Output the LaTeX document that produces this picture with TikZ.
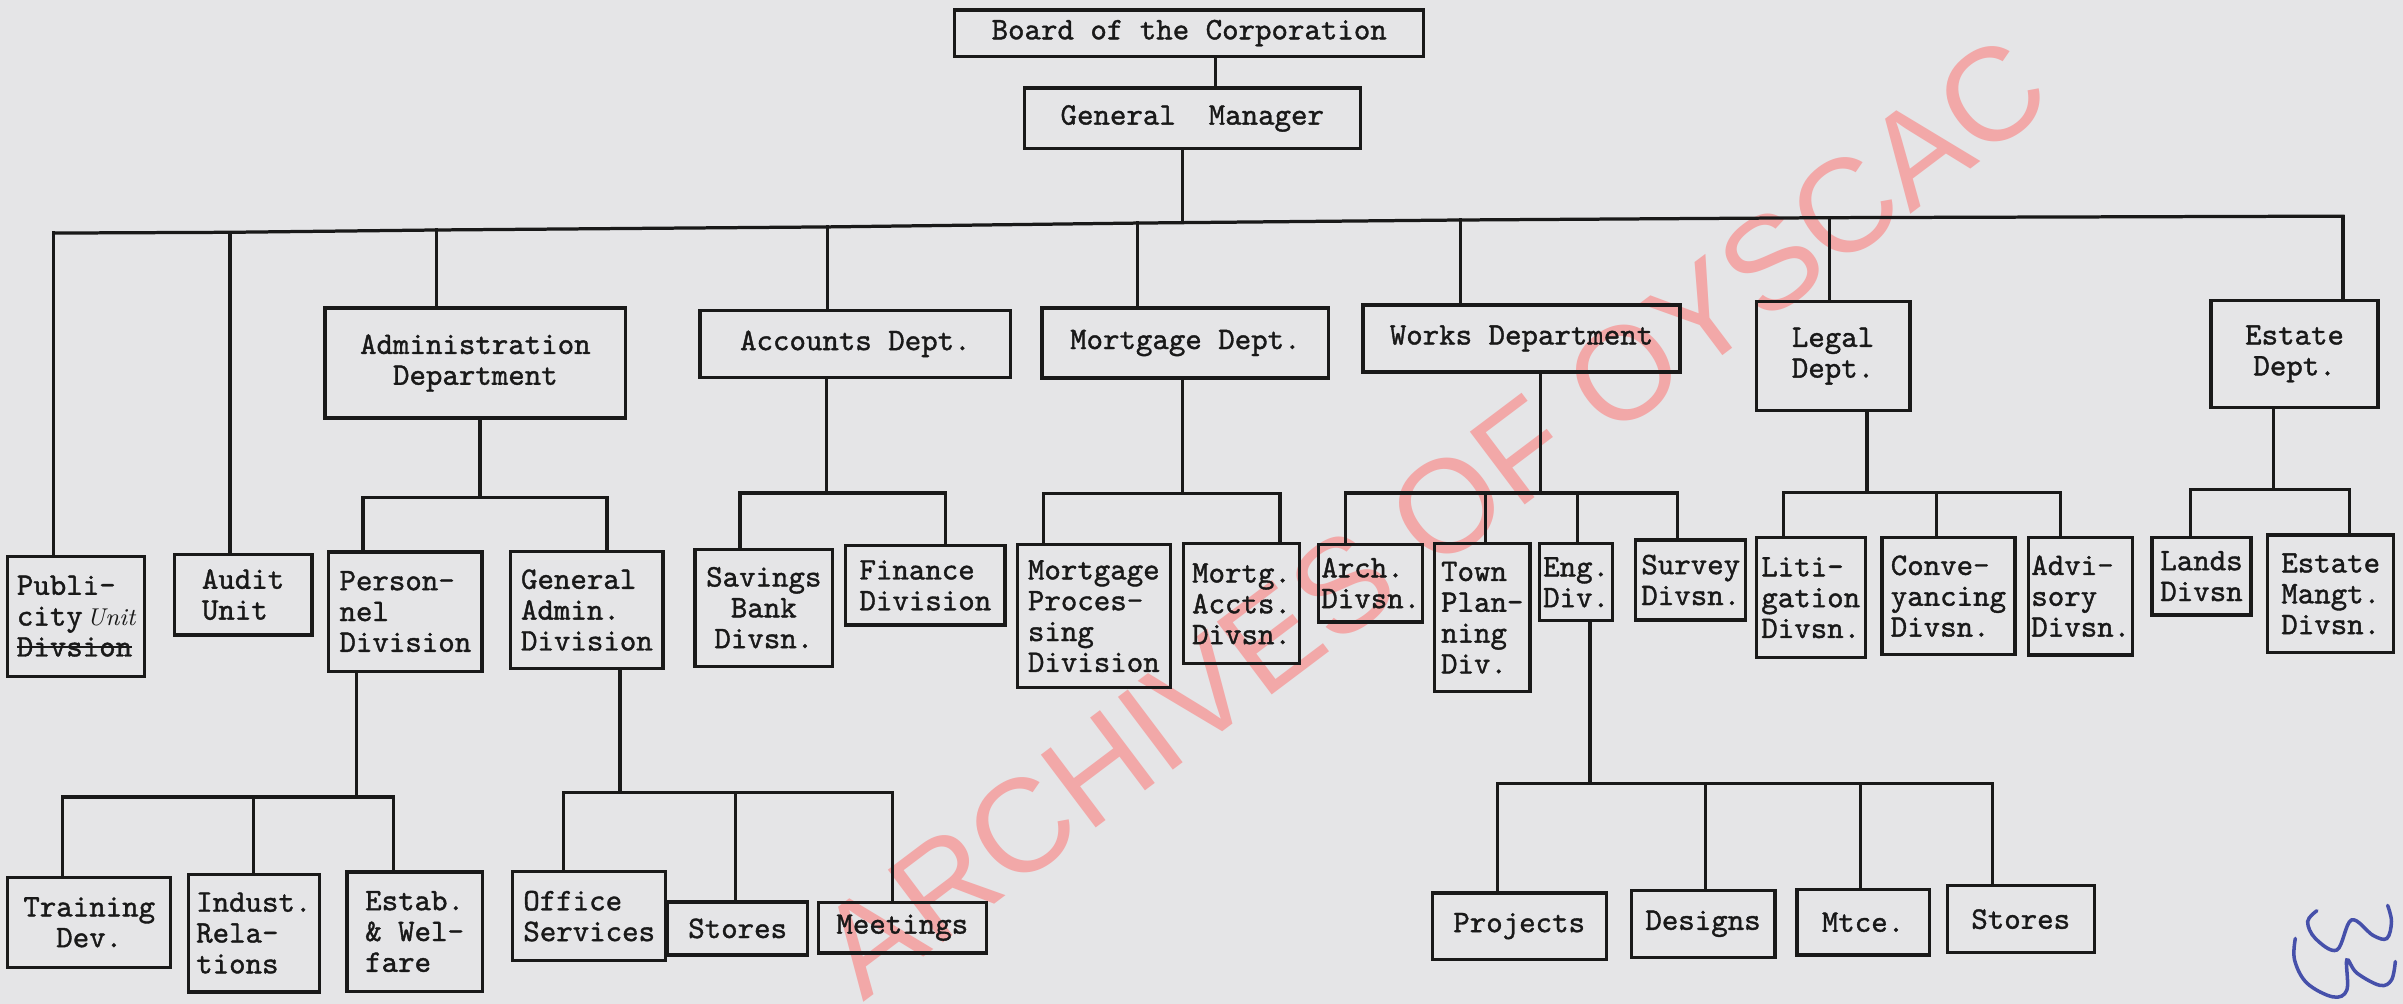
\documentclass[tikz,border=0pt]{standalone}
\usepackage{fontspec}
\newfontfamily\typer{lmmono10-regular.otf}[FakeBold=1.2]
\newfontfamily\wmfont{Liberation Sans}
\newsavebox{\strikebox}
\newcommand{\strikeword}[1]{\sbox{\strikebox}{#1}\rlap{\usebox{\strikebox}}\rule[0.28em]{\wd\strikebox}{0.7pt}}
\definecolor{paper}{RGB}{229,229,231}
\definecolor{ink}{RGB}{25,25,25}
\definecolor{wmred}{RGB}{242,168,168}
\definecolor{penblue}{RGB}{70,80,170}

\begin{document}
\begin{tikzpicture}[
    orgbox/.style={draw=ink, line width=1.2pt, inner sep=1pt, align=left, text=ink, font=\typer\fontsize{11.6}{11.4}\selectfont},
    sz/.style 2 args={minimum width=#1cm, minimum height=#2cm},
    link/.style={draw=ink, line width=1.2pt, line cap=rect},
    wmark/.style={font=\wmfont\fontsize{49}{49}\selectfont, text=wmred, rotate=37},
]
% paper
\fill[paper] (0,0) rectangle (31.24,-13.05);
\useasboundingbox (0,0) rectangle (31.24,-13.05);

% watermark
\node[wmark] (wm) at (18.63,-6.72) {ARCHIVES OF OYSCAC};

% === Top ===
\node[orgbox, sz={6.10}{0.60}] (board) at (15.46,-0.43) {Board of the Corporation};
\node[orgbox, sz={4.37}{0.79}] (gm) at (15.50,-1.54) {General\ \ Manager};

% === Departments ===
\node[orgbox, sz={3.91}{1.43}, align=center] (admin) at (6.18,-4.72) {Administration\\Department};
\node[orgbox, sz={4.04}{0.87}] (acc) at (11.12,-4.47) {Accounts Dept.};
\node[orgbox, sz={3.73}{0.91}] (mort) at (15.41,-4.46) {Mortgage Dept.};
\node[orgbox, sz={4.12}{0.87}] (works) at (19.78,-4.40) {Works Department};
\node[orgbox, sz={2.00}{1.42}, align=center] (legal) at (23.83,-4.63) {Legal\\Dept.};
\node[orgbox, sz={2.17}{1.39}, align=center] (estate) at (29.83,-4.60) {Estate\\Dept.};

% === Divisions ===
\node[orgbox, sz={1.78}{1.56}] (pub) at (0.99,-8.01) {Publi-\\city{\rmfamily\itshape\small\,Unit}\\\strikeword{Divsion}};
\node[orgbox, sz={1.79}{1.05}] (audit) at (3.16,-7.73) {Audit\\Unit};
\node[orgbox, sz={1.99}{1.55}] (pers) at (5.27,-7.95) {Person-\\nel\\Division};
\node[orgbox, sz={1.98}{1.53}] (gadm) at (7.63,-7.93) {General\\Admin.\\Division};
\node[orgbox, sz={1.79}{1.52}, align=center] (sav) at (9.93,-7.90) {Savings\\Bank\\Divsn.};
\node[orgbox, sz={2.07}{1.03}] (fin) at (12.03,-7.61) {Finance\\Division};
\node[orgbox, sz={1.99}{1.86}] (mproc) at (14.22,-8.01) {Mortgage\\Proces-\\sing\\Division};
\node[orgbox, sz={1.50}{1.56}] (macc) at (16.14,-7.85) {Mortg.\\Accts.\\Divsn.};
\node[orgbox, sz={1.34}{1.01}] (arch) at (17.82,-7.58) {Arch.\\Divsn.};
\node[orgbox, sz={1.24}{1.92}] (town) at (19.27,-8.03) {Town\\Plan-\\ning\\Div.};
\node[orgbox, sz={0.95}{1.00}] (eng) at (20.49,-7.57) {Eng.\\Div.};
\node[orgbox, sz={1.43}{1.04}] (survey) at (21.98,-7.54) {Survey\\Divsn.};
\node[orgbox, sz={1.42}{1.56}] (lit) at (23.54,-7.77) {Liti-\\gation\\Divsn.};
\node[orgbox, sz={1.73}{1.52}] (conv) at (25.33,-7.75) {Conve-\\yancing\\Divsn.};
\node[orgbox, sz={1.35}{1.53}] (adv) at (27.05,-7.75) {Advi-\\sory\\Divsn.};
\node[orgbox, sz={1.29}{1.01}] (lands) at (28.62,-7.49) {Lands\\Divsn};
\node[orgbox, sz={1.64}{1.53}] (emang) at (30.30,-7.72) {Estate\\Mangt.\\Divsn.};

% === Sections ===
\node[orgbox, sz={2.12}{1.17}, align=center] (train) at (1.16,-11.99) {Training\\Dev.};
\node[orgbox, sz={1.70}{1.53}] (indust) at (3.30,-12.13) {Indust.\\Rela-\\tions};
\node[orgbox, sz={1.76}{1.55}] (estab) at (5.39,-12.11) {Estab.\\\& Wel-\\fare};
\node[orgbox, sz={1.99}{1.16}] (office) at (7.66,-11.91) {Office\\Services};
\node[orgbox, sz={1.82}{0.69}] (gstores) at (9.59,-12.07) {Stores};
\node[orgbox, sz={2.18}{0.66}] (meet) at (11.73,-12.06) {Meetings};
\node[orgbox, sz={2.26}{0.86}] (proj) at (19.75,-12.04) {Projects};
\node[orgbox, sz={1.87}{0.87}] (design) at (22.14,-12.01) {Designs};
\node[orgbox, sz={1.72}{0.85}] (mtce) at (24.22,-11.99) {Mtce.};
\node[orgbox, sz={1.91}{0.87}] (estores) at (26.27,-11.95) {Stores};

% === Connectors ===
\coordinate (bd) at (15.80,-1.0);
\draw[link] (board.south -| bd) -- (gm.north -| bd);

% main bus (runs a little uphill to the right)
\coordinate (j-gm) at (15.37,-2.89);
\foreach \n/\x/\y in {pub/0.70/-3.03, audit/2.99/-3.02, admin/5.67/-2.99, acc/10.76/-2.95, mort/14.79/-2.90, works/18.99/-2.86, legal/23.78/-2.83, estate/30.46/-2.81}
  \coordinate (j-\n) at (\x,\y);
\draw[link] (gm.south -| j-gm) -- (j-gm);
\draw[link] (j-pub) -- (j-audit) -- (j-admin) -- (j-acc) -- (j-mort) -- (j-works) -- (j-legal) -- (j-estate);
\foreach \n in {pub, audit, admin, acc, mort, works, legal, estate}
  \draw[link] (j-\n) -- (j-\n |- \n.north);

% administration
\coordinate (k-admin) at (6.24,-6.47);
\coordinate (k-pers) at (4.72,-6.47);
\coordinate (k-gadm) at (7.89,-6.47);
\draw[link] (admin.south -| k-admin) -- (k-admin);
\draw[link] (k-pers) -- (k-gadm);
\foreach \n in {pers, gadm}
  \draw[link] (k-\n) -- (k-\n |- \n.north);

% accounts
\coordinate (k-acc) at (10.74,-6.41);
\coordinate (k-sav) at (9.62,-6.41);
\coordinate (k-fin) at (12.29,-6.41);
\draw[link] (acc.south -| k-acc) -- (k-acc);
\draw[link] (k-sav) -- (k-fin);
\foreach \n in {sav, fin}
  \draw[link] (k-\n) -- (k-\n |- \n.north);

% mortgage
\coordinate (k-mort) at (15.37,-6.42);
\coordinate (k-mproc) at (13.57,-6.42);
\coordinate (k-macc) at (16.64,-6.42);
\draw[link] (mort.south -| k-mort) -- (k-mort);
\draw[link] (k-mproc) -- (k-macc);
\foreach \n in {mproc, macc}
  \draw[link] (k-\n) -- (k-\n |- \n.north);

% works
\coordinate (k-works) at (20.03,-6.41);
\foreach \n/\x in {arch/17.49, town/19.31, eng/20.51, survey/21.81}
  \coordinate (k-\n) at (\x,-6.41);
\draw[link] (works.south -| k-works) -- (k-works);
\draw[link] (k-arch) -- (k-survey);
\foreach \n in {arch, town, eng, survey}
  \draw[link] (k-\n) -- (k-\n |- \n.north);

% legal
\coordinate (k-legal) at (24.27,-6.40);
\foreach \n/\x in {lit/23.19, conv/25.17, adv/26.79}
  \coordinate (k-\n) at (\x,-6.40);
\draw[link] (legal.south -| k-legal) -- (k-legal);
\draw[link] (k-lit) -- (k-adv);
\foreach \n in {lit, conv, adv}
  \draw[link] (k-\n) -- (k-\n |- \n.north);

% estate
\coordinate (k-estate) at (29.56,-6.36);
\coordinate (k-lands) at (28.48,-6.36);
\coordinate (k-emang) at (30.54,-6.36);
\draw[link] (estate.south -| k-estate) -- (k-estate);
\draw[link] (k-lands) -- (k-emang);
\foreach \n in {lands, emang}
  \draw[link] (k-\n) -- (k-\n |- \n.north);

% personnel
\coordinate (m-pers) at (4.63,-10.36);
\foreach \n/\x in {train/0.81, indust/3.30, estab/5.12}
  \coordinate (m-\n) at (\x,-10.36);
\draw[link] (pers.south -| m-pers) -- (m-pers);
\draw[link] (m-train) -- (m-estab);
\foreach \n in {train, indust, estab}
  \draw[link] (m-\n) -- (m-\n |- \n.north);

% general admin
\coordinate (m-gadm) at (8.06,-10.30);
\foreach \n/\x in {office/7.33, gstores/9.56, meet/11.60}
  \coordinate (m-\n) at (\x,-10.30);
\draw[link] (gadm.south -| m-gadm) -- (m-gadm);
\draw[link] (m-office) -- (m-meet);
\foreach \n in {office, gstores, meet}
  \draw[link] (m-\n) -- (m-\n |- \n.north);

% engineering
\coordinate (m-eng) at (20.67,-10.19);
\foreach \n/\x in {proj/19.47, design/22.17, mtce/24.19, estores/25.90}
  \coordinate (m-\n) at (\x,-10.19);
\draw[link] (eng.south -| m-eng) -- (m-eng);
\draw[link] (m-proj) -- (m-estores);
\foreach \n in {proj, design, mtce, estores}
  \draw[link] (m-\n) -- (m-\n |- \n.north);

% pen mark
\draw[penblue, line width=1.3pt, line cap=round] plot[smooth, tension=0.6] coordinates {(30.12,-11.84) (30.00,-11.98) (30.10,-12.20) (30.38,-12.35) (30.57,-11.96) (30.85,-12.16) (31.03,-12.20) (31.09,-11.98) (31.04,-11.77)};
\draw[penblue, line width=1.3pt, line cap=round] plot[smooth, tension=0.6] coordinates {(29.84,-12.20) (29.83,-12.48) (29.99,-12.78) (30.33,-12.96) (30.51,-12.87) (30.51,-12.48) (30.64,-12.65) (30.94,-12.81) (31.09,-12.74) (31.14,-12.50)};

\end{tikzpicture}
\end{document}
